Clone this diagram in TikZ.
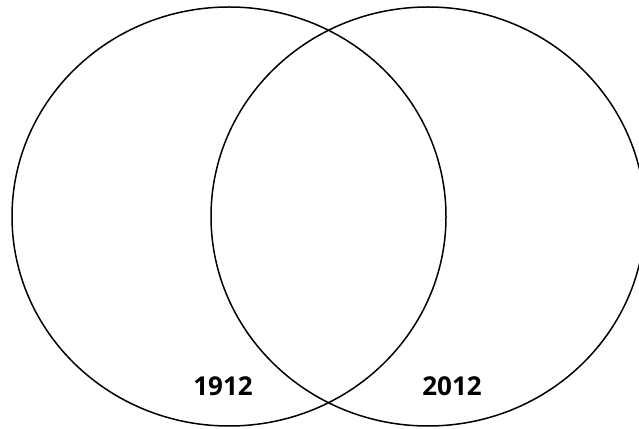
\documentclass[tikz,border=0pt]{standalone}
\usepackage{fontspec}
\setmainfont{Open Sans}
\usepackage{tikz}
\usetikzlibrary{shapes.geometric}

\begin{document}
\begin{tikzpicture}[x=1pt, y=1pt,
    ring/.style={draw, ellipse, line width=1.5pt, minimum width=434pt, minimum height=419pt, inner sep=0pt},
    year/.style={font=\bfseries\fontsize{26}{30}\selectfont, inner sep=0pt}]
    \useasboundingbox (0,0) rectangle (639,428);
    \clip (0,0) rectangle (639,428);
    \node[ring] (left) at (229,211.5) {};
    \node[ring] (right) at (428,211.5) {};
    \node[year] (old) at (223,42) {1912};
    \node[year] (new) at (452,42) {2012};
\end{tikzpicture}
\end{document}
